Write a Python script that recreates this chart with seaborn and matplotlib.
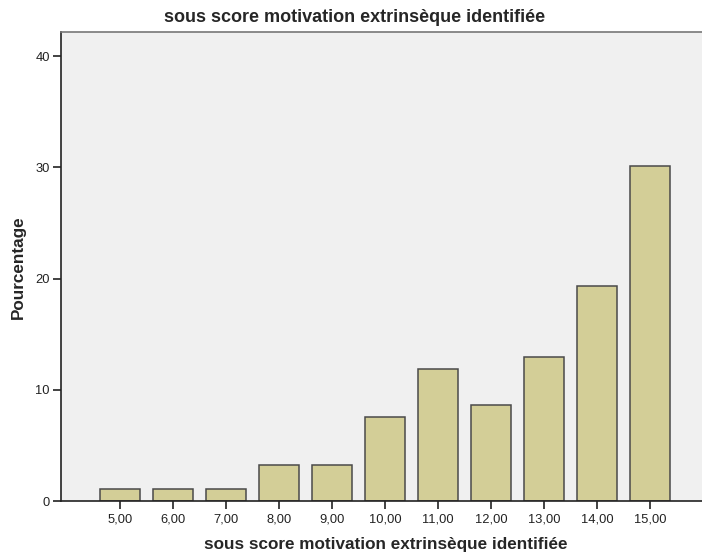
import matplotlib
matplotlib.use("Agg")
import matplotlib.pyplot as plt
import seaborn as sns
import pandas as pd

scores = [5, 6, 7, 8, 9, 10, 11, 12, 13, 14, 15]
percent = [1.08, 1.08, 1.08, 3.23, 3.23, 7.53, 11.83, 8.60, 12.90, 19.35, 30.11]
x_labels = ["5,00", "6,00", "7,00", "8,00", "9,00", "10,00", "11,00", "12,00", "13,00", "14,00", "15,00"]
y_ticks = [0, 10, 20, 30, 40]
title = "sous score motivation extrinsèque identifiée"
xlabel = "sous score motivation extrinsèque identifiée"
ylabel = "Pourcentage"

sns.set_style("white")
plt.rcParams["font.family"] = ["Liberation Sans", "DejaVu Sans"]

df = pd.DataFrame({"score": scores, "pct": percent})

W, H = 702, 558
fig = plt.figure(figsize=(W / 100, H / 100), dpi=100)
ax = fig.add_axes([61 / W, (H - 501) / H, (702 - 61) / W, (501 - 32) / H])
ax.set_facecolor("#F0F0F0")

sns.barplot(data=df, x="score", y="pct", native_scale=True, width=0.75,
            color="#D3CE97", saturation=1, edgecolor="#4a4a4a", linewidth=1.1, ax=ax)

ax.set_xlim(3.89, 15.98)
ax.set_ylim(0, 42.16)
ax.set_xticks(scores)
ax.set_xticklabels(x_labels)
ax.set_yticks(y_ticks)
ax.tick_params(axis="both", direction="out", length=6, width=1.2, color="#222222",
               labelsize=9.3, labelcolor="#222222", pad=2, bottom=True, left=True)
ax.tick_params(axis="x", pad=3)

for s in ["left", "bottom"]:
    ax.spines[s].set_color("#222222")
    ax.spines[s].set_linewidth(1.2)
ax.spines["top"].set_color("#777777")
ax.spines["top"].set_linewidth(1.2)
ax.spines["right"].set_visible(False)

ax.set_xlabel("")
ax.set_ylabel("")
fig.text(386 / W, 1 - 545 / H, xlabel, ha="center", va="center", fontsize=12.3, fontweight="bold")
fig.text(18 / W, 1 - 267 / H, ylabel, ha="center", va="center", rotation=90, fontsize=12.3, fontweight="bold")
fig.text(355 / W, 1 - 18 / H, title, ha="center", va="center", fontsize=13, fontweight="bold")

fig.savefig("out.png", dpi=100)
